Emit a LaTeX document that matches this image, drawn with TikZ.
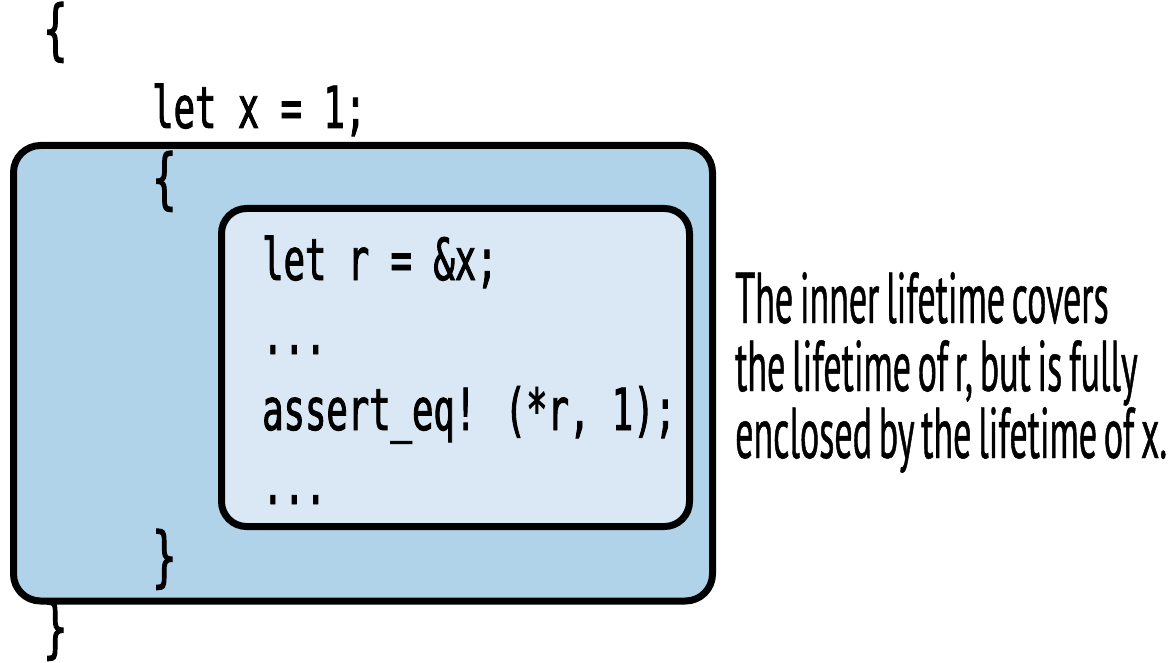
\documentclass[tikz,border=0pt]{standalone}
\usepackage{fontspec}
\newfontfamily\codefont[FakeStretch=0.613,FakeBold=1.5]{DejaVu Sans Mono}
\newfontfamily\notefont[FakeStretch=0.5,FakeBold=0.6,WordSpace=0.7]{PT Sans}
\definecolor{outerblue}{HTML}{B0D3E9}
\definecolor{innerblue}{HTML}{D9E8F4}
\tikzset{
  codeline/.style={anchor=base west, inner sep=0pt, font=\codefont\fontsize{58}{60}\selectfont},
  bracechar/.style={anchor=base west, inner sep=0pt, font=\codefont\fontsize{66}{68}\selectfont},
  noteline/.style={anchor=base west, inner sep=0pt, font=\notefont\fontsize{72}{68}\selectfont},
  scopebox/.style={draw=black, line width=7pt, rounded corners=27pt, inner sep=0pt},
}
\begin{document}
\begin{tikzpicture}[x=1pt,y=-1pt]
\useasboundingbox (0,0) rectangle (1173,663);
% boxes
\node[scopebox, fill=outerblue, minimum width=699pt, minimum height=455.5pt] (outer) at (363,373.25) {};
\node[scopebox, fill=innerblue, rounded corners=25pt, minimum width=468pt, minimum height=318pt] (inner) at (455.5,367.5) {};
% code
\node[bracechar] (b1) at (43,52) {\{};
\node[codeline] (lx) at (152,128) {let x = 1;};
\node[bracechar] (b2) at (152,201) {\{};
\node[codeline] (lr) at (262,280) {let r = \&x;};
\node[codeline] (d1) at (262,354) {...};
\node[codeline] (as) at (262,430) {assert\_eq! (*r, 1);};
\node[codeline] (d2) at (262,504) {...};
\node[bracechar] (b3) at (152,579) {\}};
\node[bracechar] (b4) at (43,650) {\}};
% note
\node[noteline] (t1) at (735,323) {The inner lifetime covers};
\node[noteline] (t2) at (735,391) {the lifetime of r, but is fully};
\node[noteline] (t3) at (735,458) {enclosed by the lifetime of x.};
\end{tikzpicture}
\end{document}
